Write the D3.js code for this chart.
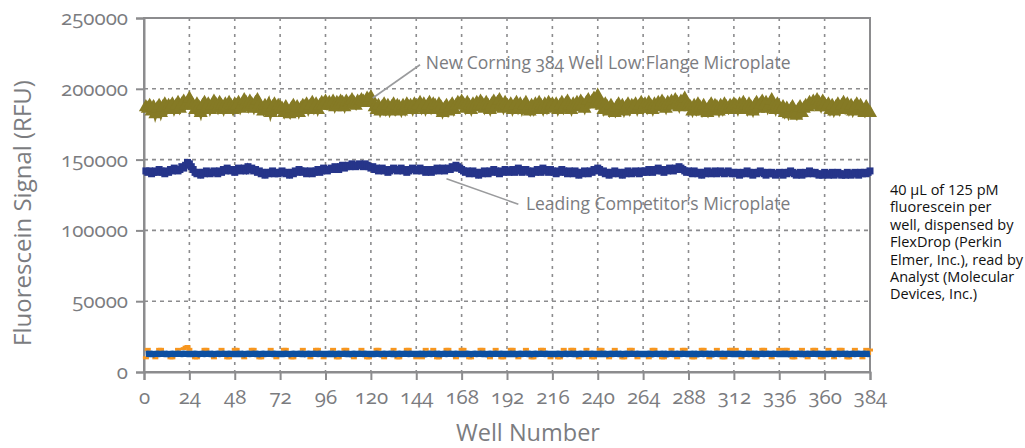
<!DOCTYPE html>
<html><head><meta charset="utf-8">
<script src="https://cdn.jsdelivr.net/npm/d3@7"></script>
<style>
body{margin:0;background:#fff;}
svg text{font-family:"Open Sans",sans-serif;}
.num{font-variant-numeric:oldstyle-nums;}
</style></head><body>
<svg id="c" width="1025" height="448"></svg>
<script>
// Y axis ticks and X axis ticks
const yTicks = [0, 50000, 100000, 150000, 200000, 250000];
const xTicks = [0,24,48,72,96,120,144,168,192,216,240,264,288,312,336,360,384];

// Series values (thousands of RFU), one per well, 24 wells per row
const corningNew = [
187,186,188,184,187,182,186,188,183,187,189,185,188,187,189,185,188,190,186,189,191,188,190,193,
190,188,185,189,187,183,188,190,186,189,185,188,191,189,186,190,188,185,189,187,190,188,185,189,
188,190,186,189,192,190,187,191,189,186,190,192,189,186,184,188,185,189,183,187,189,185,188,187,
186,183,187,184,182,186,188,184,187,183,186,188,187,189,185,188,190,186,189,185,188,190,189,191,
188,190,188,191,187,190,189,191,190,187,191,189,190,192,190,188,191,190,192,191,190,193,192,194,
190,187,185,188,184,187,189,185,188,184,187,189,185,188,187,184,188,185,189,187,188,185,189,187,
188,190,186,189,185,188,190,186,189,188,185,189,187,183,186,188,184,187,189,185,188,190,189,191,
189,186,190,188,185,189,187,190,188,191,189,186,190,188,185,189,191,187,190,192,189,186,190,188,
187,189,185,188,190,186,189,185,188,190,186,184,188,185,189,187,190,188,185,189,186,190,188,189,
187,189,185,188,190,186,189,191,188,185,189,187,190,188,191,189,186,190,192,189,191,193,190,195,
191,188,185,189,187,184,188,185,183,187,189,185,188,184,187,189,185,188,187,189,185,188,190,186,
189,186,190,188,185,189,187,190,188,191,189,186,190,188,191,189,192,190,187,191,189,193,190,188,
187,184,188,185,189,187,184,188,185,183,187,189,185,188,187,184,188,185,189,187,185,188,187,189,
188,185,189,187,190,188,185,189,187,184,188,190,186,189,191,188,190,186,189,192,188,185,189,187,
185,187,183,186,182,185,187,183,181,185,187,183,186,188,187,190,188,191,189,192,190,187,191,189,
187,189,185,188,184,187,189,185,188,190,186,189,185,188,184,187,189,185,188,185,183,187,184,183];

const competitor = [
142,141,142,140,141,142,141,143,142,141,140,142,141,143,142,144,143,142,143,145,144,146,148,147,
145,143,141,140,141,139,141,140,142,141,140,141,142,141,140,142,141,143,142,144,143,142,143,141,
143,144,142,143,144,142,145,143,144,142,143,141,142,140,141,139,141,140,141,142,140,141,140,141,
142,141,140,141,139,141,140,142,141,143,142,141,142,140,141,142,140,141,142,143,141,142,144,143,
142,143,144,143,145,144,143,145,146,144,145,146,145,147,146,145,146,147,146,145,147,146,145,144,
145,143,144,142,143,144,142,143,141,142,143,144,143,142,143,144,142,143,141,142,143,144,143,142,
143,144,142,143,141,142,143,141,142,143,144,142,143,144,142,143,144,143,145,144,146,145,144,143,
142,141,142,140,141,142,140,141,139,141,140,142,141,140,142,141,143,142,141,140,142,141,143,142,
141,142,143,141,142,144,143,141,142,143,142,141,140,142,141,143,142,141,144,143,142,141,143,142,
141,140,142,141,143,142,141,140,142,141,140,142,141,139,141,140,142,141,140,142,141,143,142,144,
143,141,142,140,141,139,141,140,142,141,140,141,139,141,140,142,141,140,141,142,141,140,142,141,
142,141,143,142,141,143,142,144,143,142,141,143,142,144,143,142,144,143,145,144,143,142,141,142,
141,140,142,141,140,141,139,141,140,142,141,140,141,142,140,141,142,141,140,141,142,141,140,141,
140,141,139,140,141,140,142,141,140,139,141,140,141,142,141,140,139,141,140,141,140,139,140,141,
140,139,141,140,141,142,141,140,139,140,141,139,140,141,140,142,141,140,141,140,139,140,139,141,
140,139,140,141,139,140,141,140,139,140,139,141,140,139,140,141,140,139,141,140,141,140,141,142];

const blankOrange = [
10,16,13,12,13,10,12,16,16,13,12,13,12,10,10,13,12,16,13,12,16.5,17.5,18,16,
13,12,10,10,13,12,13,16,16,12,13,12,10,13,12,13,16,12,13,10,10,12,13,16,
16,13,12,13,10,12,13,12,16,16,13,12,10,10,13,12,13,12,16,13,12,10,13,12,
13,16,16,12,13,10,10,12,13,12,13,16,12,13,12,10,13,12,16,16,13,12,10,13,
12,13,12,16,13,10,10,12,13,16,16,13,12,13,10,12,13,12,16,13,12,10,10,13,
13,12,16,16,12,13,10,12,13,12,13,16,12,10,10,13,12,13,16,16,12,13,12,10,
12,13,10,13,16,12,13,12,16,13,10,10,12,13,12,16,16,13,12,13,10,12,13,16,
16,12,13,10,10,12,13,12,13,16,16,12,13,12,10,13,12,16,13,12,10,10,13,12,
13,16,16,12,13,10,12,13,12,16,13,12,10,10,13,12,13,16,16,13,12,13,10,12,
12,13,10,10,13,16,12,13,12,16,16,13,12,10,13,12,13,16,12,13,10,10,12,13,
16,16,13,12,13,10,12,13,16,12,13,12,10,10,13,12,16,16,13,12,10,13,12,13,
13,12,10,13,16,16,12,13,12,10,10,13,12,13,16,12,13,10,12,13,16,16,13,12,
12,10,10,13,12,13,16,16,12,13,10,12,13,12,16,13,12,10,10,13,12,16,16,13,
16,13,12,10,13,12,13,16,12,13,10,10,12,13,16,16,13,12,13,10,12,13,12,16,
13,12,16,16,12,13,10,10,13,12,13,16,12,13,10,12,13,16,16,12,13,10,10,12,
13,16,12,13,10,12,13,16,16,12,13,10,10,13,12,16,13,12,13,10,12,16,13,15.5];

const blankBlue = [
12.8,12.9,12.7,12.8,12.6,12.8,12.9,12.7,12.8,12.9,12.7,12.8,12.6,12.8,12.9,12.7,12.8,12.9,12.8,12.7,12.9,12.8,12.7,12.8,
12.8,12.7,12.9,12.8,12.6,12.8,12.9,12.7,12.8,12.9,12.7,12.8,12.6,12.8,12.9,12.7,12.8,12.9,12.8,12.7,12.9,12.8,12.7,12.8,
12.8,12.9,12.7,12.8,12.6,12.8,12.9,12.7,12.8,12.9,12.7,12.8,12.6,12.8,12.9,12.7,12.8,12.9,12.8,12.7,12.9,12.8,12.7,12.8,
12.8,12.7,12.9,12.8,12.6,12.8,12.9,12.7,12.8,12.9,12.7,12.8,12.6,12.8,12.9,12.7,12.8,12.9,12.8,12.7,12.9,12.8,12.7,12.8,
12.8,12.9,12.7,12.8,12.6,12.8,12.9,12.7,12.8,12.9,12.7,12.8,12.6,12.8,12.9,12.7,12.8,12.9,12.8,12.7,12.9,12.8,12.7,12.8,
12.8,12.7,12.9,12.8,12.6,12.8,12.9,12.7,12.8,12.9,12.7,12.8,12.6,12.8,12.9,12.7,12.8,12.9,12.8,12.7,12.9,12.8,12.7,12.8,
12.8,12.9,12.7,12.8,12.6,12.8,12.9,12.7,12.8,12.9,12.7,12.8,12.6,12.8,12.9,12.7,12.8,12.9,12.8,12.7,12.9,12.8,12.7,12.8,
12.8,12.7,12.9,12.8,12.6,12.8,12.9,12.7,12.8,12.9,12.7,12.8,12.6,12.8,12.9,12.7,12.8,12.9,12.8,12.7,12.9,12.8,12.7,12.8,
12.8,12.9,12.7,12.8,12.6,12.8,12.9,12.7,12.8,12.9,12.7,12.8,12.6,12.8,12.9,12.7,12.8,12.9,12.8,12.7,12.9,12.8,12.7,12.8,
12.8,12.7,12.9,12.8,12.6,12.8,12.9,12.7,12.8,12.9,12.7,12.8,12.6,12.8,12.9,12.7,12.8,12.9,12.8,12.7,12.9,12.8,12.7,12.8,
12.8,12.9,12.7,12.8,12.6,12.8,12.9,12.7,12.8,12.9,12.7,12.8,12.6,12.8,12.9,12.7,12.8,12.9,12.8,12.7,12.9,12.8,12.7,12.8,
12.8,12.7,12.9,12.8,12.6,12.8,12.9,12.7,12.8,12.9,12.7,12.8,12.6,12.8,12.9,12.7,12.8,12.9,12.8,12.7,12.9,12.8,12.7,12.8,
12.8,12.9,12.7,12.8,12.6,12.8,12.9,12.7,12.8,12.9,12.7,12.8,12.6,12.8,12.9,12.7,12.8,12.9,12.8,12.7,12.9,12.8,12.7,12.8,
12.8,12.7,12.9,12.8,12.6,12.8,12.9,12.7,12.8,12.9,12.7,12.8,12.6,12.8,12.9,12.7,12.8,12.9,12.8,12.7,12.9,12.8,12.7,12.8,
12.8,12.9,12.7,12.8,12.6,12.8,12.9,12.7,12.8,12.9,12.7,12.8,12.6,12.8,12.9,12.7,12.8,12.9,12.8,12.7,12.9,12.8,12.7,12.8,
12.8,12.7,12.9,12.8,12.6,12.8,12.9,12.7,12.8,12.9,12.7,12.8,12.6,12.8,12.9,12.7,12.8,12.9,12.8,12.7,12.9,12.8,12.7,12.8];

const labelNew = "New Corning 384 Well Low Flange Microplate";
const labelComp = "Leading Competitor\u2019s Microplate";
const noteLines = ["40 \u00b5L of 125 pM","fluorescein per","well, dispensed by","FlexDrop (Perkin","Elmer, Inc.), read by","Analyst (Molecular","Devices, Inc.)"];

const svg = d3.select("#c");
const L = 144, R = 870, T = 18, B = 372;
const x = d3.scaleLinear().domain([0,384]).range([L,R]);
const y = d3.scaleLinear().domain([0,250000]).range([B,T]);
const grey = "#8c8c8e", txt = "#7b7c7f";

const wells = d3.range(1,385);
const mk = arr => arr.map((v,i)=>({w:wells[i], v:v*1000}));

// grid
const g = svg.append("g");
g.selectAll(".vg").data(xTicks.filter(t=>t>0 && t<384)).join("line")
  .attr("x1",d=>x(d)).attr("x2",d=>x(d)).attr("y1",T).attr("y2",B)
  .attr("stroke",grey).attr("stroke-width",1.6).attr("stroke-dasharray","3,5");
g.selectAll(".hg").data(yTicks.filter(t=>t>0 && t<250000)).join("line")
  .attr("x1",L).attr("x2",R).attr("y1",d=>y(d)).attr("y2",d=>y(d))
  .attr("stroke",grey).attr("stroke-width",1.6).attr("stroke-dasharray","4,4");
// frame
g.append("rect").attr("x",L).attr("y",T).attr("width",R-L).attr("height",B-T)
  .attr("fill","none").attr("stroke",grey).attr("stroke-width",2);

// axes
const ya = svg.append("g").attr("transform",`translate(${L},0)`)
  .call(d3.axisLeft(y).tickValues(yTicks).tickFormat(d3.format("d")).tickSize(8).tickPadding(8));
const xa = svg.append("g").attr("transform",`translate(0,${B})`)
  .call(d3.axisBottom(x).tickValues(xTicks).tickFormat(d3.format("d")).tickSize(8).tickPadding(9));
[ya,xa].forEach(a=>{
  a.select(".domain").attr("stroke",grey).attr("stroke-width",2);
  a.selectAll(".tick line").attr("stroke",grey).attr("stroke-width",2);
  a.selectAll(".tick text").attr("fill",txt).attr("class","num")
   .style("font-size","20.5px").style("font-family","'Open Sans',sans-serif");
});

// series
const line = d3.line().x(d=>x(d.w)).y(d=>y(d.v));
const plot = svg.append("g");
// orange blank (dashes)
plot.selectAll(".o").data(mk(blankOrange)).join("rect")
  .attr("x",d=>x(d.w)-3).attr("y",d=>y(d.v)-1.5).attr("width",6).attr("height",3)
  .attr("fill","#f7961f");
// blue blank (thick line)
plot.append("path").datum(mk(blankBlue)).attr("d",line)
  .attr("fill","none").attr("stroke","#0c4fa1").attr("stroke-width",6.5);

// competitor (navy squares)
const comp = mk(competitor);
plot.append("path").datum(comp).attr("d",line)
  .attr("fill","none").attr("stroke","#26358a").attr("stroke-width",4);
plot.selectAll(".s").data(comp).join("rect")
  .attr("x",d=>x(d.w)-3.5).attr("y",d=>y(d.v)-3.5).attr("width",7).attr("height",7)
  .attr("fill","#26358a");

// new corning (olive triangles)
const nw = mk(corningNew);
plot.append("path").datum(nw).attr("d",line)
  .attr("fill","none").attr("stroke","#857a25").attr("stroke-width",5);
const tri = d3.symbol().type(d3.symbolTriangle).size(85);
plot.selectAll(".t").data(nw).join("path")
  .attr("transform",d=>`translate(${x(d.w)},${y(d.v)})`).attr("d",tri)
  .attr("fill","#857a25");

// annotations
svg.append("line").attr("x1",x(121)).attr("y1",y(193500)).attr("x2",x(146)).attr("y2",y(217000))
  .attr("stroke","#9a9b9d").attr("stroke-width",1.6);
svg.append("text").attr("x",x(149)).attr("y",69).text(labelNew)
  .attr("fill",txt).style("font-size","17.5px").attr("class","num");
svg.append("line").attr("x1",x(160)).attr("y1",y(136500)).attr("x2",x(198)).attr("y2",y(118500))
  .attr("stroke","#9a9b9d").attr("stroke-width",1.6);
svg.append("text").attr("x",x(202)).attr("y",210).text(labelComp)
  .attr("fill",txt).style("font-size","17.5px");

// axis titles
svg.append("text").attr("transform",`translate(31,${(T+B)/2+18}) rotate(-90)`)
  .attr("text-anchor","middle").attr("fill",txt).style("font-size","24px")
  .text("Fluorescein Signal (RFU)");
svg.append("text").attr("x",(L+R)/2+21).attr("y",441).attr("text-anchor","middle")
  .attr("fill",txt).style("font-size","23.5px").text("Well Number");

// side note
svg.append("g").selectAll("text").data(noteLines).join("text")
  .attr("x",890).attr("y",(d,i)=>195+i*17.4).text(d=>d)
  .attr("fill","#111").style("font-size","14.5px");
</script>
</body></html>
